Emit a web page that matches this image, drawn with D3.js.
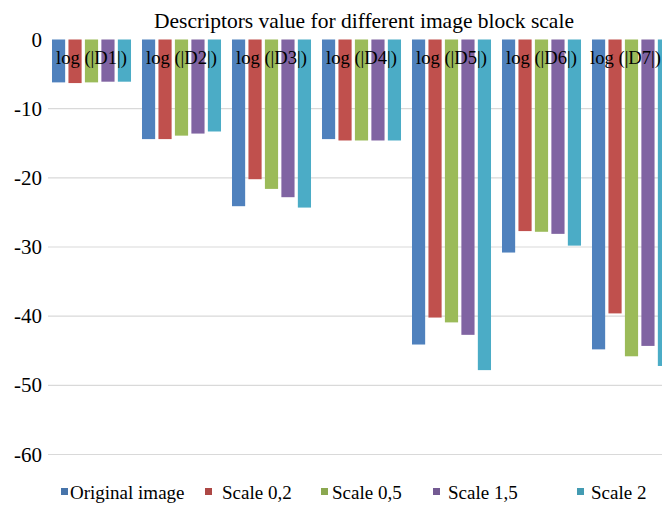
<!DOCTYPE html>
<html>
<head>
<meta charset="utf-8">
<script src="https://cdn.jsdelivr.net/npm/d3@7/dist/d3.min.js"></script>
<style>
  html, body { margin: 0; padding: 0; background: #fff; }
  svg { display: block; }
  text { font-family: "Liberation Serif", "Times New Roman", Times, "DejaVu Serif", serif; }
</style>
</head>
<body>
<svg id="chart" width="662" height="505"></svg>
<script>
// ---- data ----
const categories = ["log (|D1|)", "log (|D2|)", "log (|D3|)", "log (|D4|)", "log (|D5|)", "log (|D6|)", "log (|D7|)"];
const seriesNames = ["Original image", "Scale 0,2", "Scale 0,5", "Scale 1,5", "Scale 2"];
const originalImage = [-6.2, -14.4, -24.1, -14.4, -44.1, -30.8, -44.8];
const scale02 = [-6.3, -14.4, -20.2, -14.6, -40.2, -27.7, -39.6];
const scale05 = [-6.2, -13.9, -21.6, -14.6, -40.9, -27.8, -45.8];
const scale15 = [-6.1, -13.6, -22.8, -14.6, -42.7, -28.1, -44.3];
const scale2 = [-6.1, -13.3, -24.3, -14.6, -47.8, -29.8, -47.2];
const yTicks = [0, -10, -20, -30, -40, -50, -60];
const title = "Descriptors value for different image block scale";

// ---- styles / layout ----
const FONT = '"Liberation Serif", "Times New Roman", Times, "DejaVu Serif", serif';
const colors = ["#4F81BD", "#C0504D", "#9BBB59", "#8064A2", "#4BACC6"];
const legendSquareX = [61, 205, 321, 433, 577];
const legendTextX = [70, 222, 332, 448, 591];
const W = 662;

const seriesValues = [originalImage, scale02, scale05, scale15, scale2];
const svg = d3.select("#chart");

const y = d3.scaleLinear().domain([-60, 0]).range([454.5, 39.5]);
const x0 = d3.scaleBand().domain(categories).range([46.5, 676.5]).paddingInner(0.122).paddingOuter(0.061);
const x1 = d3.scaleBand().domain(seriesNames).range([0, x0.bandwidth()]).paddingInner(0.2).paddingOuter(0);

// gridlines
svg.append("g").selectAll("line")
  .data(yTicks.filter(t => t !== 0))
  .join("line")
  .attr("x1", 48).attr("x2", W)
  .attr("y1", d => y(d)).attr("y2", d => y(d))
  .attr("stroke", "#d9d9d9").attr("stroke-width", 1.2);

// y tick labels
svg.append("g").selectAll("text")
  .data(yTicks)
  .join("text")
  .attr("x", 42)
  .attr("y", d => y(d))
  .attr("dy", "0.34em")
  .attr("text-anchor", "end")
  .attr("font-family", FONT)
  .attr("font-size", 21)
  .attr("fill", "#000")
  .text(d => d);

// bars
const groups = svg.append("g").selectAll("g")
  .data(categories)
  .join("g")
  .attr("transform", d => `translate(${x0(d)},0)`);

groups.selectAll("rect")
  .data((c, ci) => seriesNames.map((s, si) => ({ s, si, v: seriesValues[si][ci] })))
  .join("rect")
  .attr("x", d => x1(d.s))
  .attr("width", x1.bandwidth())
  .attr("y", y(0))
  .attr("height", d => y(d.v) - y(0))
  .attr("fill", d => colors[d.si]);

// category labels (kept inside the visible width)
svg.append("g").selectAll("text")
  .data(categories)
  .join("text")
  .attr("x", d => x0(d) + x0.bandwidth() / 2)
  .attr("y", 64)
  .attr("text-anchor", "middle")
  .attr("font-family", FONT)
  .attr("font-size", 18.6)
  .attr("fill", "#000")
  .text(d => d)
  .each(function () {
    const bb = this.getBBox();
    if (bb.x + bb.width > W - 1) {
      const cx = +this.getAttribute("x");
      this.setAttribute("x", cx - (bb.x + bb.width - (W - 1)));
    }
  });

// title
svg.append("text")
  .attr("x", 364)
  .attr("y", 28)
  .attr("text-anchor", "middle")
  .attr("font-family", FONT)
  .attr("font-size", 21.5)
  .attr("fill", "#000")
  .text(title);

// legend
const legend = svg.append("g").selectAll("g")
  .data(seriesNames)
  .join("g");
legend.append("rect")
  .attr("x", (d, i) => legendSquareX[i])
  .attr("y", 488)
  .attr("width", 7).attr("height", 7)
  .attr("fill", (d, i) => d3.color(colors[i]).darker(0.3));
legend.append("text")
  .attr("x", (d, i) => legendTextX[i])
  .attr("y", 499)
  .attr("font-family", FONT)
  .attr("font-size", 19)
  .attr("fill", "#000")
  .text(d => d);
</script>
</body>
</html>
